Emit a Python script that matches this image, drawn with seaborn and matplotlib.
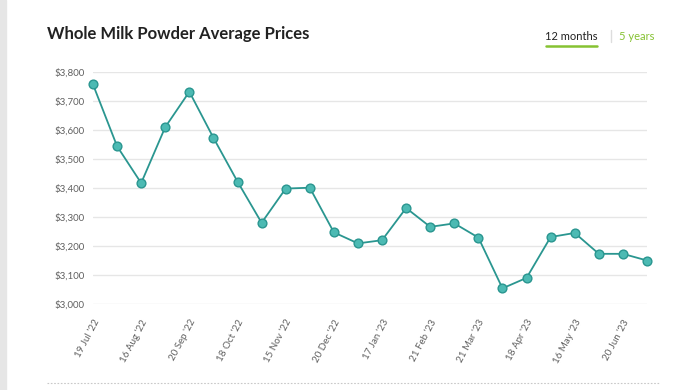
import matplotlib.pyplot as plt
import seaborn as sns
import pandas as pd
from matplotlib.lines import Line2D
from matplotlib.patches import Rectangle
from matplotlib.ticker import FuncFormatter

dates = ["19 Jul '22", "2 Aug '22", "16 Aug '22", "6 Sep '22", "20 Sep '22", "4 Oct '22",
         "18 Oct '22", "1 Nov '22", "15 Nov '22", "6 Dec '22", "20 Dec '22", "3 Jan '23",
         "17 Jan '23", "7 Feb '23", "21 Feb '23", "7 Mar '23", "21 Mar '23", "4 Apr '23",
         "18 Apr '23", "2 May '23", "16 May '23", "6 Jun '23", "20 Jun '23", "4 Jul '23"]
prices = [3757, 3544, 3417, 3610, 3732, 3573, 3422, 3280, 3398, 3401, 3247, 3209,
          3220, 3331, 3266, 3278, 3229, 3054, 3090, 3231, 3245, 3173, 3173, 3150]
y_ticks = [3000, 3100, 3200, 3300, 3400, 3500, 3600, 3700, 3800]

df = pd.DataFrame({"idx": range(len(dates)), "date": dates, "price": prices})

sns.set_theme(style="white")
plt.rcParams['font.family'] = ['Lato', 'DejaVu Sans']

fig = plt.figure(figsize=(6.9, 3.9), dpi=100)
ax = fig.add_axes([93 / 690, 1 - 304 / 390, (647 - 93) / 690, (304 - 72) / 390])

sns.lineplot(data=df, x="idx", y="price", ax=ax, color="#2a9690", linewidth=1.3,
             marker="o", markersize=6.3, markerfacecolor="#4cbab3",
             markeredgecolor="#2a9690", markeredgewidth=1.0, clip_on=False, zorder=3)

ax.set_xlim(0, len(dates) - 1)
ax.set_ylim(3000, 3800)
ax.set_yticks(y_ticks)
ax.yaxis.set_major_formatter(FuncFormatter(lambda v, p: f"${v:,.0f}"))
ax.set_xticks(df["idx"][::2])
ax.set_xticklabels(df["date"][::2], rotation=62, ha="right", rotation_mode="anchor")
ax.tick_params(axis="x", colors="#606060", labelsize=7, length=0, pad=10)
ax.tick_params(axis="y", colors="#606060", labelsize=7, length=0, pad=6)
ax.grid(axis="y", color="#e6e6e6", linewidth=1)
ax.set_xlabel("")
ax.set_ylabel("")
for s in ax.spines.values():
    s.set_visible(False)

fig.text(47 / 690, 1 - 34 / 390, "Whole Milk Powder Average Prices", fontsize=12,
         fontweight="bold", color="#222222", va="center", ha="left")
fig.text(571 / 690, 1 - 36 / 390, "12 months", fontsize=8, color="#222222",
         va="center", ha="center")
fig.add_artist(Line2D([546 / 690, 597 / 690], [1 - 46 / 390] * 2, color="#86c232",
                      linewidth=1.8))
fig.add_artist(Line2D([611 / 690, 611 / 690], [1 - 30 / 390, 1 - 42 / 390],
                      color="#dddddd", linewidth=1))
fig.text(637 / 690, 1 - 36 / 390, "5 years", fontsize=8, color="#86c232",
         va="center", ha="center")
fig.add_artist(Line2D([47 / 690, 660 / 690], [1 - 383 / 390] * 2, color="#c8c8c8",
                      linewidth=0.8, linestyle=(0, (1.5, 1.5))))
fig.add_artist(Rectangle((0, 0), 6 / 690, 1, transform=fig.transFigure,
                         color="#e6e6e6", zorder=0))

fig.savefig("out.png", dpi=100)
